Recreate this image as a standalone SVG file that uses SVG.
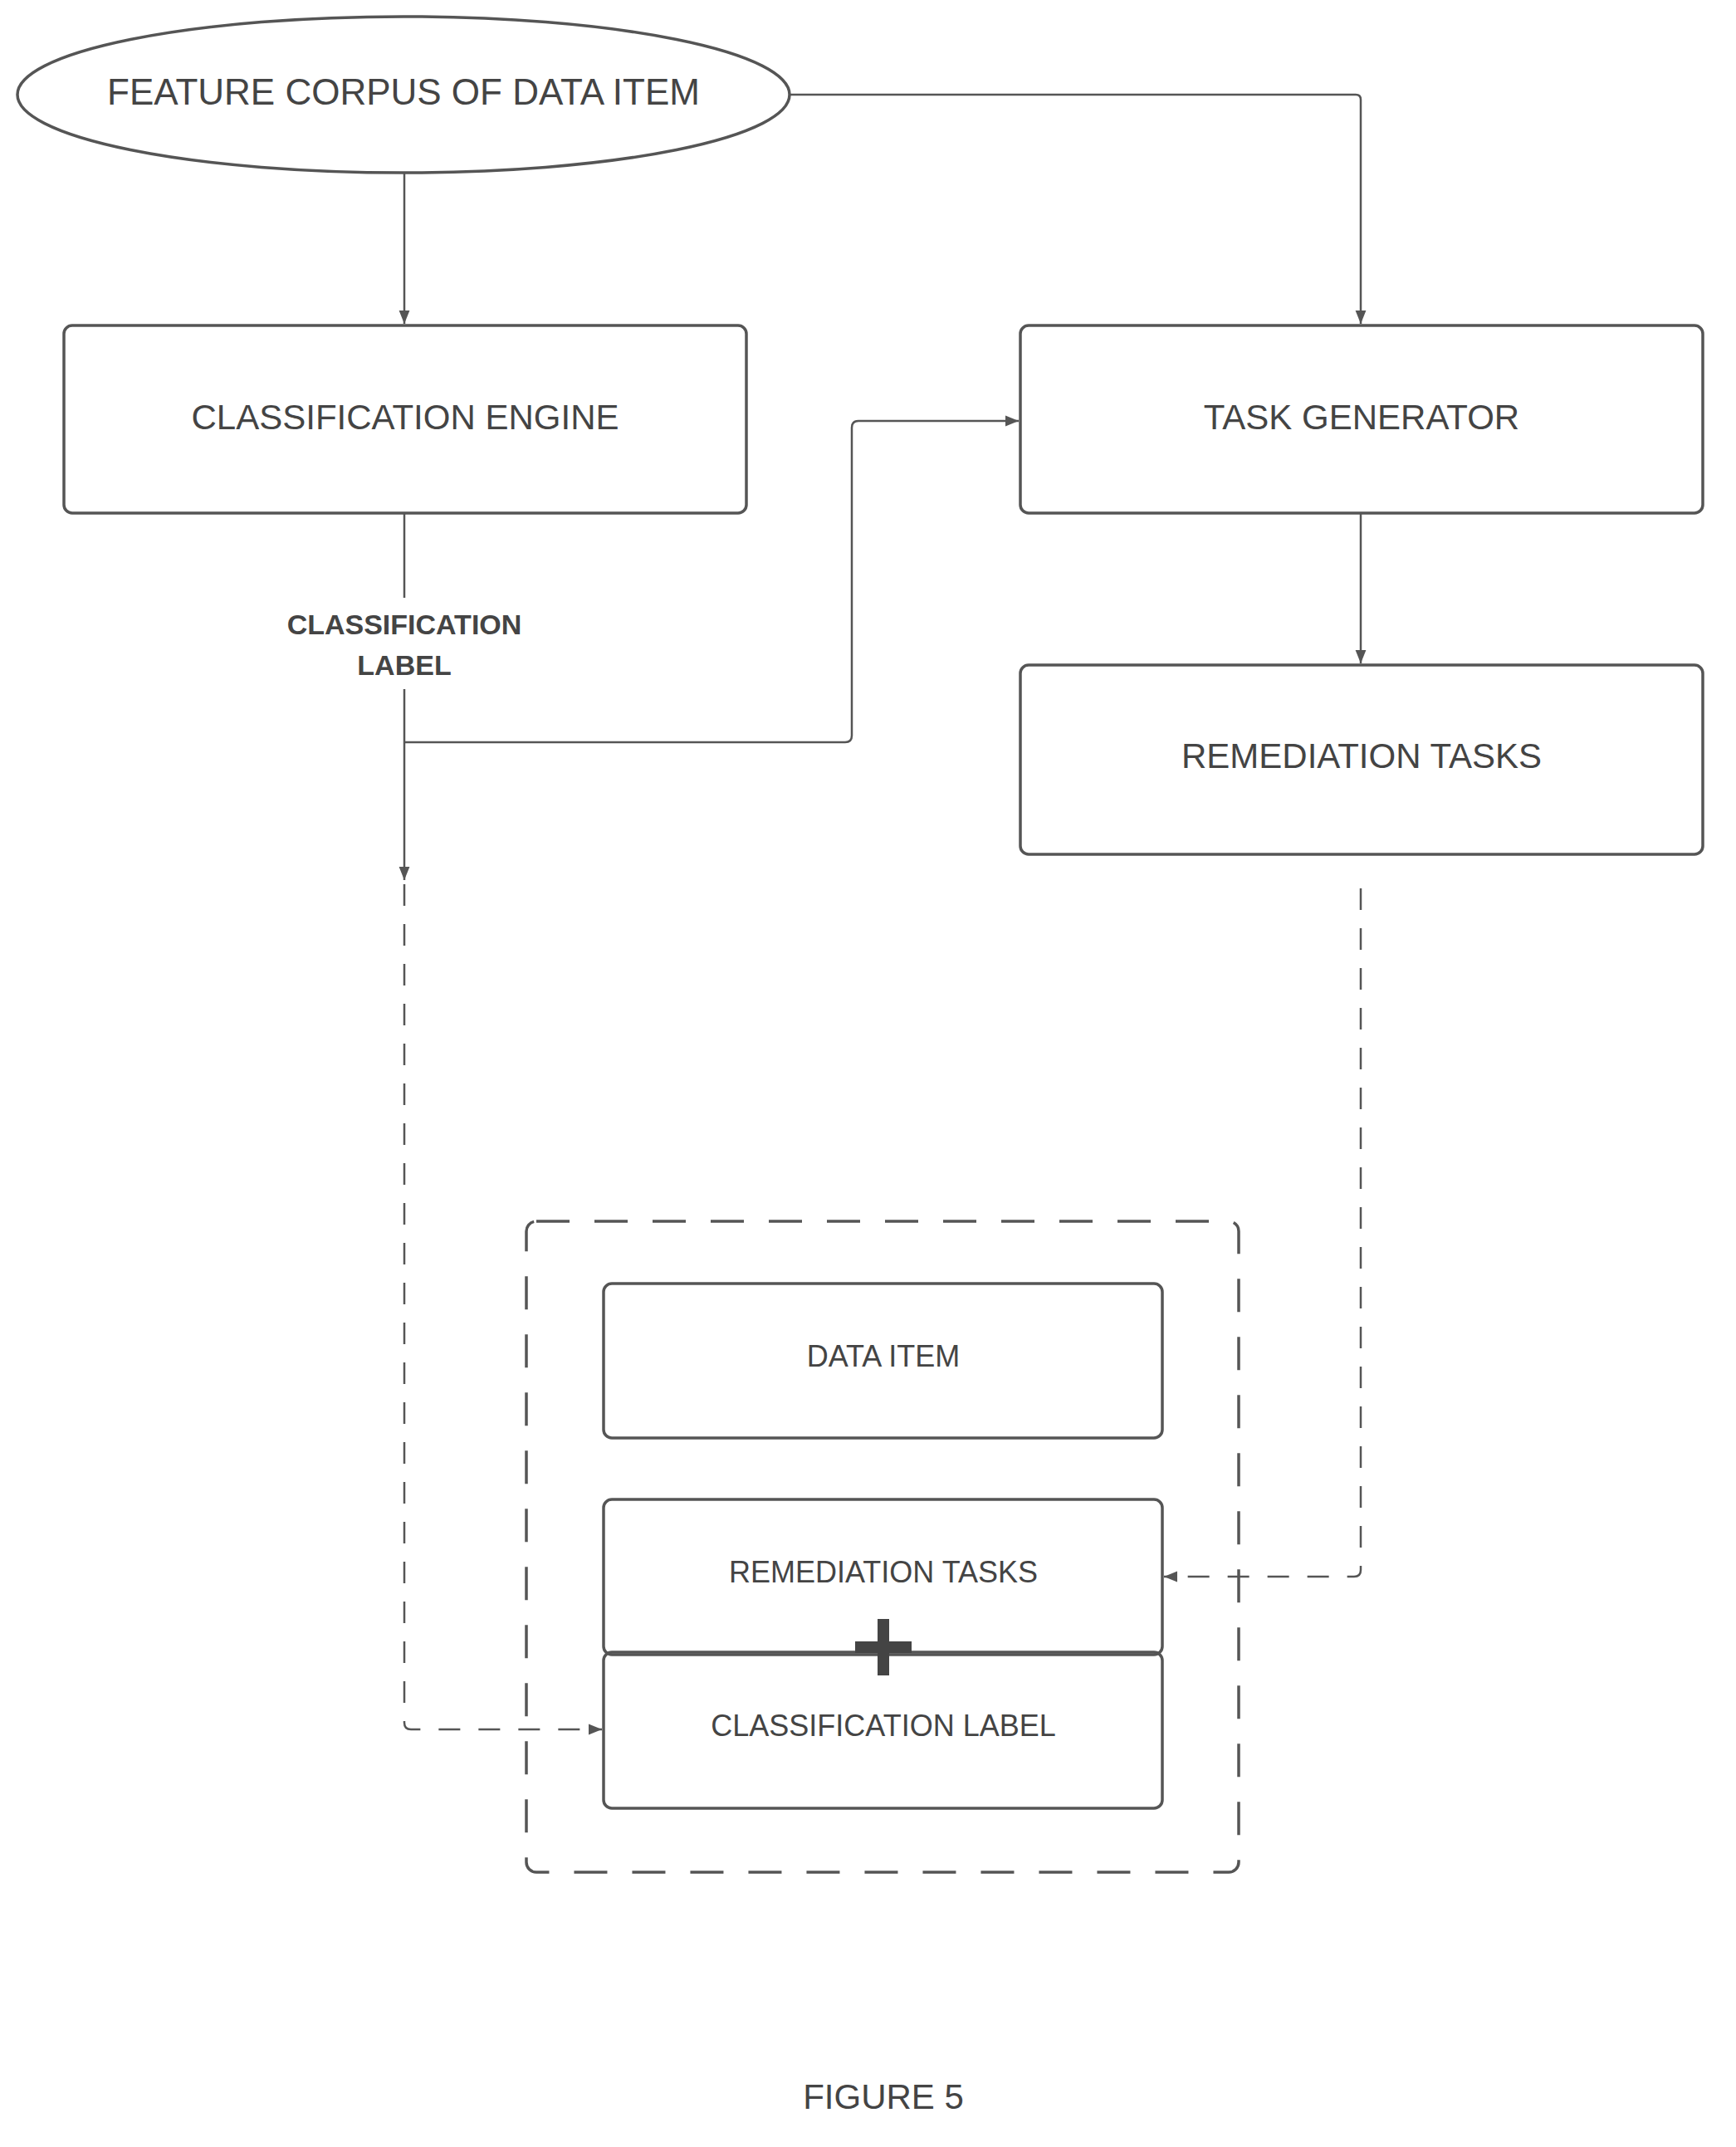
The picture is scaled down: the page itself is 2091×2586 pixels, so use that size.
<svg xmlns="http://www.w3.org/2000/svg" width="2091" height="2586" viewBox="0 0 2091 2586">
<style>
.n{fill:none;stroke:#555;stroke-width:3.5}
.t{font-family:"Liberation Sans",Arial,sans-serif;fill:#444;text-anchor:middle;dominant-baseline:central}
.c{fill:none;stroke:#555;stroke-width:2.5}
.d{stroke-dasharray:26 22}
</style>
<defs><marker id="a" viewBox="0 0 10 10" refX="10" refY="5" markerWidth="16" markerHeight="16" markerUnits="userSpaceOnUse" orient="auto"><path d="M0,1 L10,5 L0,9 Z" fill="#555"/></marker></defs>
<rect width="2091" height="2586" fill="#fff"/>
<g id="connectors">
<path class="c" d="M487,209 V390" marker-end="url(#a)"/>
<path class="c" d="M951,114 H1633 Q1639,114 1639,120 V390" marker-end="url(#a)"/>
<path class="c" d="M487,618 V720"/>
<path class="c" d="M487,830 V1060" marker-end="url(#a)"/>
<path class="c" d="M487,894 H1018 Q1026,894 1026,886 V515 Q1026,507 1034,507 H1227" marker-end="url(#a)"/>
<path class="c" d="M1639,618 V799" marker-end="url(#a)"/>
<path class="c d" d="M487,1065 V2075 Q487,2083 495,2083 H725" marker-end="url(#a)"/>
<path class="c d" d="M1639,1070 V1891 Q1639,1899 1631,1899 H1402" marker-end="url(#a)"/>
</g>
<g id="corpus"><ellipse class="n" cx="486" cy="114" rx="465" ry="94"/><text class="t" x="486" y="110" font-size="44">FEATURE CORPUS OF DATA ITEM</text></g>
<g id="engine"><rect class="n" x="77" y="392" width="822" height="226" rx="10"/><text class="t" x="488" y="502" font-size="42">CLASSIFICATION ENGINE</text></g>
<g id="label"><text class="t" x="487" y="752" font-size="34" font-weight="bold">CLASSIFICATION</text><text class="t" x="487" y="801" font-size="34" font-weight="bold">LABEL</text></g>
<g id="taskgen"><rect class="n" x="1229" y="392" width="822" height="226" rx="10"/><text class="t" x="1640" y="502" font-size="42">TASK GENERATOR</text></g>
<g id="remediation"><rect class="n" x="1229" y="801" width="822" height="228" rx="10"/><text class="t" x="1640" y="910" font-size="42">REMEDIATION TASKS</text></g>
<g id="container"><rect class="n" x="634" y="1471" width="858" height="784" rx="12" stroke-dasharray="40 30"/></g>
<g id="dataitem"><rect class="n" x="727" y="1546" width="673" height="186" rx="10"/><text class="t" x="1064" y="1633" font-size="36">DATA ITEM</text></g>
<g id="remtasks2"><rect class="n" x="727" y="1806" width="673" height="187" rx="10"/><text class="t" x="1064" y="1893" font-size="36">REMEDIATION TASKS</text></g>
<g id="classlabel2"><rect class="n" x="727" y="1990" width="673" height="188" rx="10"/><text class="t" x="1064" y="2078" font-size="36">CLASSIFICATION LABEL</text></g>
<g id="plus"><path d="M1064,1950 V2018 M1030,1984 H1098" stroke="#444" stroke-width="14"/></g>
<g id="caption"><text class="t" x="1064" y="2525" font-size="42">FIGURE 5</text></g>
</svg>
